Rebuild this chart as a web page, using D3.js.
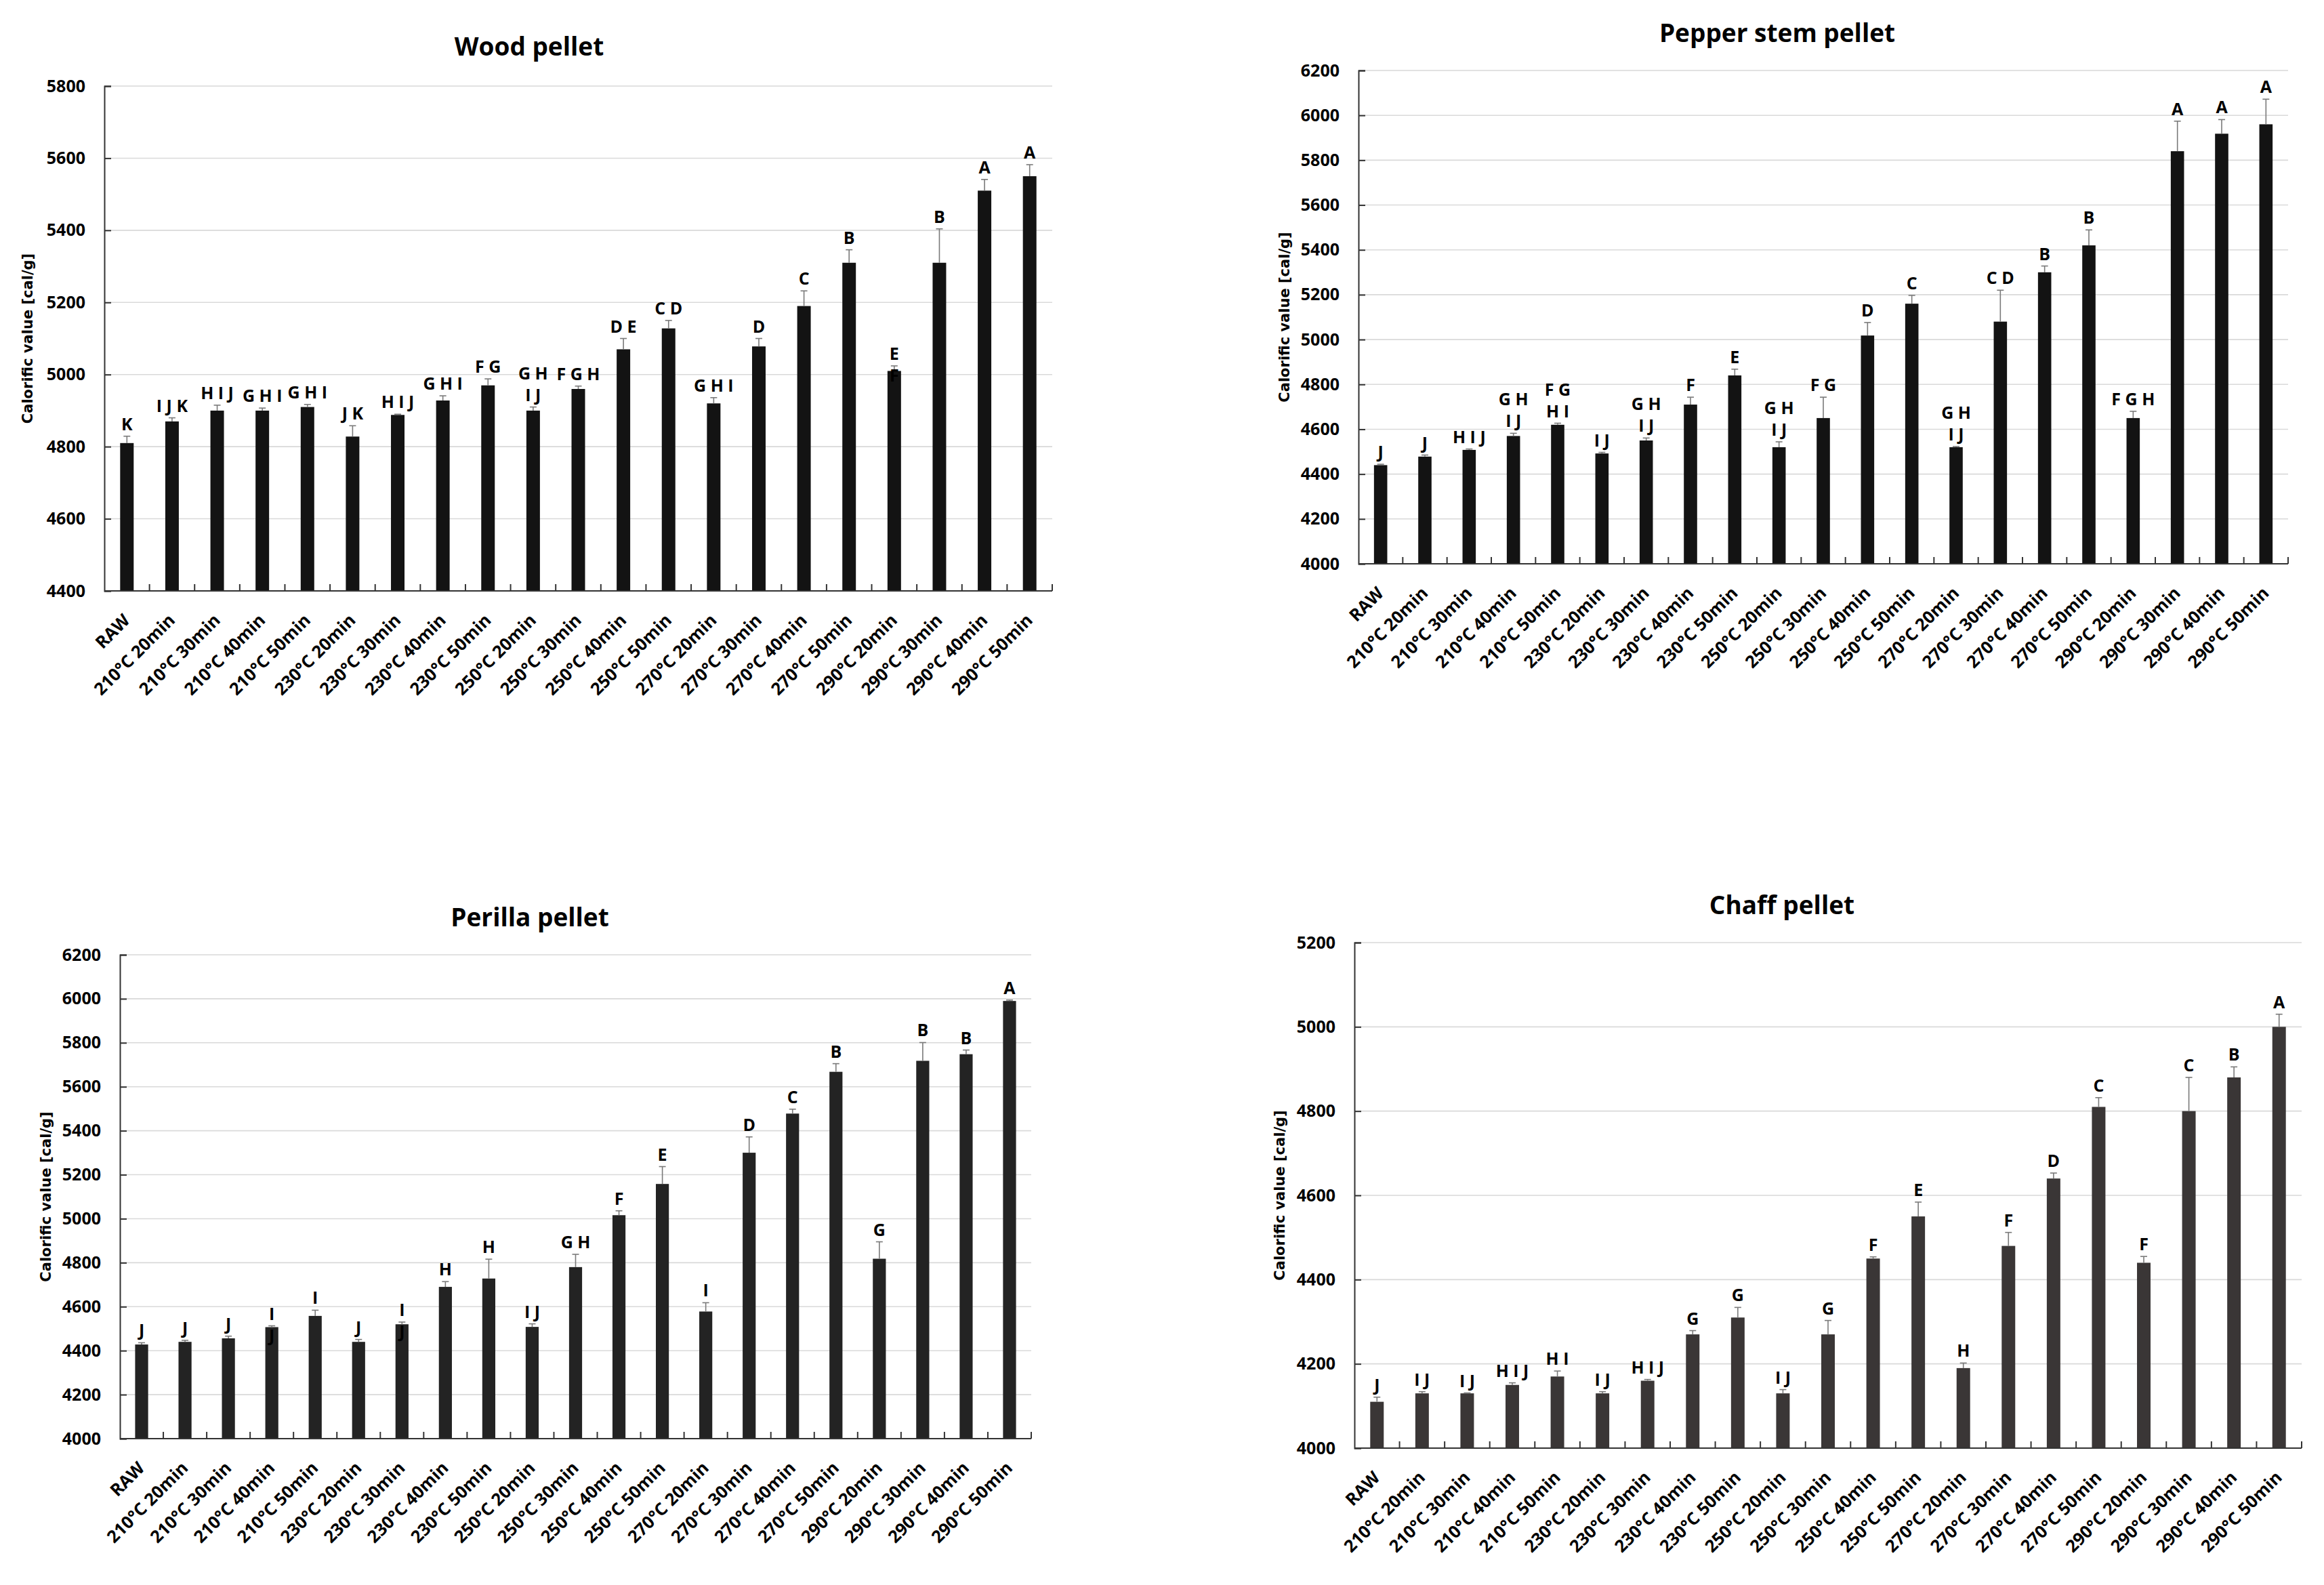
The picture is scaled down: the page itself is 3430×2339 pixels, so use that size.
<!DOCTYPE html>
<html>
<head>
<meta charset="utf-8">
<script src="https://cdn.jsdelivr.net/npm/d3@7"></script>
<style>
  html, body { margin: 0; padding: 0; background: #ffffff; }
  svg { display: block; }
</style>
</head>
<body>
<svg id="chart" width="3430" height="2339"></svg>
<script>
// ---------------- DATA ----------------
const categories = ["RAW", "210°C 20min", "210°C 30min", "210°C 40min", "210°C 50min",
  "230°C 20min", "230°C 30min", "230°C 40min", "230°C 50min",
  "250°C 20min", "250°C 30min", "250°C 40min", "250°C 50min",
  "270°C 20min", "270°C 30min", "270°C 40min", "270°C 50min",
  "290°C 20min", "290°C 30min", "290°C 40min", "290°C 50min"];

const chartTitles = ["Wood pellet", "Pepper stem pellet", "Perilla pellet", "Chaff pellet"];
const yAxisTitle = "Calorific value [cal/g]";

const woodValues = [4810, 4870, 4900, 4900, 4910, 4828, 4888, 4928, 4970, 4900, 4960, 5070, 5128, 4920, 5078, 5190, 5310, 5010, 5310, 5510, 5550];
const woodErrors = [19, 10, 15, 7, 7, 30, 2, 13, 18, 10, 8, 30, 22, 16, 22, 42, 36, 14, 94, 31, 32];
const woodLetters = ["K", "I J K", "H I J", "G H I", "G H I", "J K", "H I J", "G H I", "F G", "G H\nI J", "F G H", "D E", "C D", "G H I", "D", "C", "B", "E\nF", "B", "A", "A"];
const woodOverlap = ["290°C 20min"];
const woodTicks = [4400, 4600, 4800, 5000, 5200, 5400, 5600, 5800];

const pepperValues = [4440, 4478, 4508, 4570, 4620, 4492, 4550, 4710, 4840, 4520, 4650, 5018, 5160, 4520, 5080, 5300, 5420, 4650, 5840, 5918, 5960];
const pepperErrors = [4, 7, 4, 12, 7, 5, 11, 33, 28, 24, 93, 58, 37, 3, 140, 28, 69, 30, 134, 63, 112];
const pepperLetters = ["J", "J", "H I J", "G H\nI J", "F G\nH I", "I J", "G H\nI J", "F", "E", "G H\nI J", "F G", "D", "C", "G H\nI J", "C D", "B", "B", "F G H", "A", "A", "A"];
const pepperOverlap = [];
const pepperTicks = [4000, 4200, 4400, 4600, 4800, 5000, 5200, 5400, 5600, 5800, 6000, 6200];

const perillaValues = [4428, 4440, 4456, 4507, 4558, 4440, 4520, 4690, 4728, 4508, 4780, 5016, 5158, 4578, 5300, 5478, 5668, 4818, 5718, 5748, 5990];
const perillaErrors = [8, 7, 10, 6, 26, 11, 10, 24, 88, 14, 58, 20, 79, 40, 72, 20, 37, 77, 83, 19, 4];
const perillaLetters = ["J", "J", "J", "I\nJ", "I", "J", "I\nJ", "H", "H", "I J", "G H", "F", "E", "I", "D", "C", "B", "G", "B", "B", "A"];
const perillaOverlap = ["210°C 40min", "230°C 30min"];
const perillaTicks = [4000, 4200, 4400, 4600, 4800, 5000, 5200, 5400, 5600, 5800, 6000, 6200];

const chaffValues = [4110, 4130, 4130, 4150, 4170, 4130, 4160, 4270, 4310, 4130, 4270, 4450, 4550, 4190, 4480, 4640, 4810, 4440, 4800, 4880, 5000];
const chaffErrors = [11, 4, 1, 5, 13, 4, 3, 9, 24, 9, 33, 4, 34, 12, 32, 13, 22, 15, 80, 25, 30];
const chaffLetters = ["J", "I J", "I J", "H I J", "H I", "I J", "H I J", "G", "G", "I J", "G", "F", "E", "H", "F", "D", "C", "F", "C", "B", "A"];
const chaffOverlap = [];
const chaffTicks = [4000, 4200, 4400, 4600, 4800, 5000, 5200];

// ---------------- LAYOUT ----------------
const panels = [
  { title: chartTitles[0], values: woodValues, errors: woodErrors, letters: woodLetters, overlap: woodOverlap, ticks: woodTicks,
    x0: 154, x1: 1553, yTop: 127, yBot: 872, titleX: 781, titleY: 82, yTitleX: 41, color: "#131313" },
  { title: chartTitles[1], values: pepperValues, errors: pepperErrors, letters: pepperLetters, overlap: pepperOverlap, ticks: pepperTicks,
    x0: 2005, x1: 3377, yTop: 104, yBot: 832, titleX: 2623, titleY: 62, yTitleX: 1896, color: "#131313" },
  { title: chartTitles[2], values: perillaValues, errors: perillaErrors, letters: perillaLetters, overlap: perillaOverlap, ticks: perillaTicks,
    x0: 177, x1: 1522, yTop: 1409, yBot: 2123, titleX: 782, titleY: 1367, yTitleX: 68, color: "#232323" },
  { title: chartTitles[3], values: chaffValues, errors: chaffErrors, letters: chaffLetters, overlap: chaffOverlap, ticks: chaffTicks,
    x0: 1999, x1: 3397, yTop: 1391, yBot: 2137, titleX: 2630, titleY: 1349, yTitleX: 1889, color: "#3a3636" }
];

const svg = d3.select("#chart");
const FONT = "'Open Sans', 'Liberation Sans', sans-serif";

panels.forEach(p => {
  const g = svg.append("g");
  const ticks = p.ticks;
  const y = d3.scaleLinear().domain([ticks[0], ticks[ticks.length - 1]]).range([p.yBot, p.yTop]);
  const x = d3.scaleBand().domain(categories).range([p.x0, p.x1]).paddingInner(0.7).paddingOuter(0.35);
  const step = x.step();

  // gridlines
  g.append("g").selectAll("line").data(ticks.slice(1)).join("line")
    .attr("x1", p.x0).attr("x2", p.x1)
    .attr("y1", d => y(d)).attr("y2", d => y(d))
    .attr("stroke", "#d9d9d9").attr("stroke-width", 1.6);

  // y axis
  const yAxis = d3.axisLeft(y).tickValues(ticks).tickSize(-10).tickPadding(28).tickFormat(d3.format("d"));
  const ya = g.append("g").attr("transform", `translate(${p.x0},0)`).call(yAxis);
  ya.select(".domain").attr("stroke", "#333").attr("stroke-width", 2);
  ya.selectAll(".tick line").attr("stroke", "#333").attr("stroke-width", 2);
  ya.selectAll(".tick text").attr("font-family", FONT).attr("font-weight", 700)
    .attr("font-size", 25).attr("fill", "#000");

  // bars
  g.append("g").selectAll("rect").data(categories).join("rect")
    .attr("x", d => x(d)).attr("width", x.bandwidth())
    .attr("y", (d, i) => y(p.values[i]))
    .attr("height", (d, i) => y(ticks[0]) - y(p.values[i]))
    .attr("fill", p.color);

  // error bars
  const eg = g.append("g").attr("stroke", "#7a7a7a").attr("stroke-width", 1.6);
  categories.forEach((c, i) => {
    const cx = x(c) + x.bandwidth() / 2;
    const yt = y(p.values[i] + p.errors[i]);
    eg.append("line").attr("x1", cx).attr("x2", cx).attr("y1", y(p.values[i])).attr("y2", yt);
    eg.append("line").attr("x1", cx - 5).attr("x2", cx + 5).attr("y1", yt).attr("y2", yt);
  });

  // x axis
  const xa = g.append("g").attr("transform", `translate(0,${p.yBot})`);
  xa.append("line").attr("x1", p.x0).attr("x2", p.x1).attr("y1", 0).attr("y2", 0)
    .attr("stroke", "#333").attr("stroke-width", 2);
  xa.selectAll("line.tk").data(d3.range(1, categories.length + 1)).join("line").attr("class", "tk")
    .attr("x1", i => p.x0 + i * step).attr("x2", i => p.x0 + i * step)
    .attr("y1", 0).attr("y2", -10).attr("stroke", "#333").attr("stroke-width", 2);
  xa.selectAll("text").data(categories).join("text")
    .attr("transform", d => `translate(${x(d) + x.bandwidth() / 2 + 6},45) rotate(-45)`)
    .attr("text-anchor", "end")
    .attr("font-family", FONT).attr("font-weight", 700).attr("font-size", 25.5).attr("fill", "#000")
    .text(d => d);

  // significance letters
  const lg = g.append("g").attr("font-family", FONT).attr("font-weight", 700).attr("font-size", 25)
    .attr("fill", "#000").attr("text-anchor", "middle");
  categories.forEach((c, i) => {
    const cx = x(c) + x.bandwidth() / 2;
    const yt = y(p.values[i] + p.errors[i]);
    const lines = p.letters[i].split("\n");
    const lh = 32;
    const over = p.overlap.includes(c);
    lines.forEach((ln, k) => {
      const base = over ? (yt - 9 + k * lh) : (yt - 9 - (lines.length - 1 - k) * lh);
      lg.append("text").attr("x", cx).attr("y", base).text(ln);
    });
  });

  // title
  g.append("text").attr("x", p.titleX).attr("y", p.titleY).attr("text-anchor", "middle")
    .attr("font-family", FONT).attr("font-weight", 700).attr("font-size", 37).attr("fill", "#000")
    .text(p.title);

  // y axis title
  g.append("text")
    .attr("transform", `translate(${p.yTitleX},${(p.yTop + p.yBot) / 2}) rotate(-90)`)
    .attr("text-anchor", "middle").attr("dominant-baseline", "central")
    .attr("font-family", "'DejaVu Sans', Verdana, sans-serif").attr("font-weight", 700)
    .attr("font-size", 21).attr("fill", "#000")
    .text(yAxisTitle);
});
</script>
</body>
</html>
